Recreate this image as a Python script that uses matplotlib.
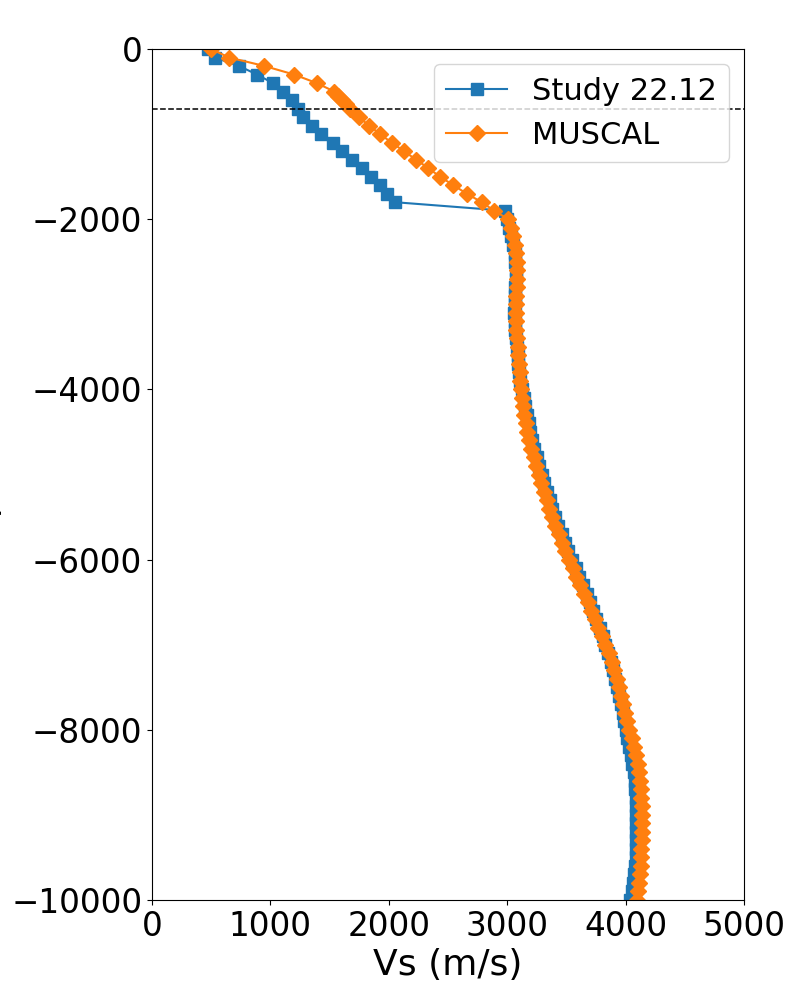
import matplotlib
matplotlib.use("Agg")
import matplotlib.pyplot as plt

# ---- Study 22.12 (blue squares) ----
study_depth = [0, -100, -200, -300, -400, -500, -600, -700, -800, -900,
               -1000, -1100, -1200, -1300, -1400, -1500, -1600, -1700, -1800, -1900,
               -2000, -2100, -2200, -2300, -2400, -2500, -2600, -2700, -2800, -2900,
               -3000, -3100, -3200, -3300, -3400, -3500, -3600, -3700, -3800, -3900,
               -4000, -4100, -4200, -4300, -4400, -4500, -4600, -4700, -4800, -4900,
               -5000, -5100, -5200, -5300, -5400, -5500, -5600, -5700, -5800, -5900,
               -6000, -6100, -6200, -6300, -6400, -6500, -6600, -6700, -6800, -6900,
               -7000, -7100, -7200, -7300, -7400, -7500, -7600, -7700, -7800, -7900,
               -8000, -8100, -8200, -8300, -8400, -8500, -8600, -8700, -8800, -8900,
               -9000, -9100, -9200, -9300, -9400, -9500, -9600, -9700, -9800, -9900,
               -10000]
study_vs = [470, 530, 735, 887, 1020, 1106, 1182, 1233, 1275, 1351,
            1427, 1529, 1605, 1689, 1774, 1850, 1926, 1985, 2050, 2978,
            2995, 3015, 3035, 3050, 3062, 3070, 3074, 3074, 3070, 3065,
            3062, 3061, 3062, 3066, 3072, 3080, 3087, 3094, 3102, 3112,
            3125, 3138, 3152, 3166, 3180, 3195, 3212, 3230, 3250, 3270,
            3290, 3312, 3335, 3358, 3381, 3405, 3432, 3459, 3487, 3516,
            3545, 3577, 3608, 3639, 3670, 3700, 3727, 3754, 3780, 3805,
            3830, 3852, 3873, 3893, 3912, 3930, 3946, 3961, 3975, 3988,
            4000, 4014, 4028, 4042, 4056, 4068, 4077, 4083, 4087, 4089,
            4090, 4090, 4089, 4088, 4087, 4085, 4080, 4073, 4064, 4053,
            4040]

# ---- MUSCAL (orange diamonds) ----
muscal_depth = [0, -100, -200, -300, -400, -500, -550, -600, -650, -700,
                -800, -900, -1000, -1100, -1200, -1300, -1400, -1500, -1600, -1700,
                -1800, -1900, -2000, -2100, -2200, -2300, -2400, -2500, -2600, -2700,
                -2800, -2900, -3000, -3100, -3200, -3300, -3400, -3500, -3600, -3700,
                -3800, -3900, -4000, -4100, -4200, -4300, -4400, -4500, -4600, -4700,
                -4800, -4900, -5000, -5100, -5200, -5300, -5400, -5500, -5600, -5700,
                -5800, -5900, -6000, -6100, -6200, -6300, -6400, -6500, -6600, -6700,
                -6800, -6900, -7000, -7100, -7200, -7300, -7400, -7500, -7600, -7700,
                -7800, -7900, -8000, -8100, -8200, -8300, -8400, -8500, -8600, -8700,
                -8800, -8900, -9000, -9100, -9200, -9300, -9400, -9500, -9600, -9700,
                -9800, -9900, -10000]
muscal_vs = [500, 650, 950, 1200, 1390, 1540, 1570, 1605, 1640, 1670,
             1745, 1835, 1926, 2024, 2128, 2230, 2334, 2432, 2545, 2658,
             2785, 2889, 3009, 3030, 3048, 3062, 3074, 3082, 3086, 3086,
             3082, 3078, 3075, 3074, 3075, 3078, 3083, 3088, 3094, 3100,
             3105, 3110, 3116, 3125, 3135, 3145, 3156, 3168, 3184, 3204,
             3224, 3245, 3265, 3287, 3310, 3334, 3357, 3380, 3406, 3434,
             3462, 3490, 3520, 3552, 3584, 3616, 3648, 3680, 3710, 3741,
             3771, 3801, 3830, 3856, 3881, 3904, 3925, 3945, 3964, 3982,
             3999, 4015, 4030, 4050, 4068, 4085, 4101, 4115, 4124, 4130,
             4134, 4137, 4138, 4138, 4137, 4136, 4134, 4132, 4127, 4120,
             4112, 4104, 4095]

ref_depth = -700
x_ticks = [0, 1000, 2000, 3000, 4000, 5000]
y_ticks = [0, -2000, -4000, -6000, -8000, -10000]

fig = plt.figure(figsize=(8, 10), dpi=100)
ax = fig.add_axes([0.19, 0.10, 0.74, 0.851])

ax.plot(study_vs, study_depth, marker='s', markersize=9, color='#1f77b4',
        linewidth=1.5, label='Study 22.12')
ax.plot(muscal_vs, muscal_depth, marker='D', markersize=8.5, color='#ff7f0e',
        linewidth=1.5, label='MUSCAL')
ax.axhline(ref_depth, color='k', linestyle='--', linewidth=1.1)

ax.set_xlim(0, 5000)
ax.set_ylim(-10000, 0)
ax.set_xticks(x_ticks)
ax.set_yticks(y_ticks)
ax.tick_params(labelsize=23.5)
ax.set_xlabel('Vs (m/s)', fontsize=26)
ax.set_ylabel('Depth (m)', fontsize=26)
ax.yaxis.set_label_coords(-0.253, 0.5)
ax.legend(loc='upper right', fontsize=22)

fig.savefig('out.png', dpi=100)
